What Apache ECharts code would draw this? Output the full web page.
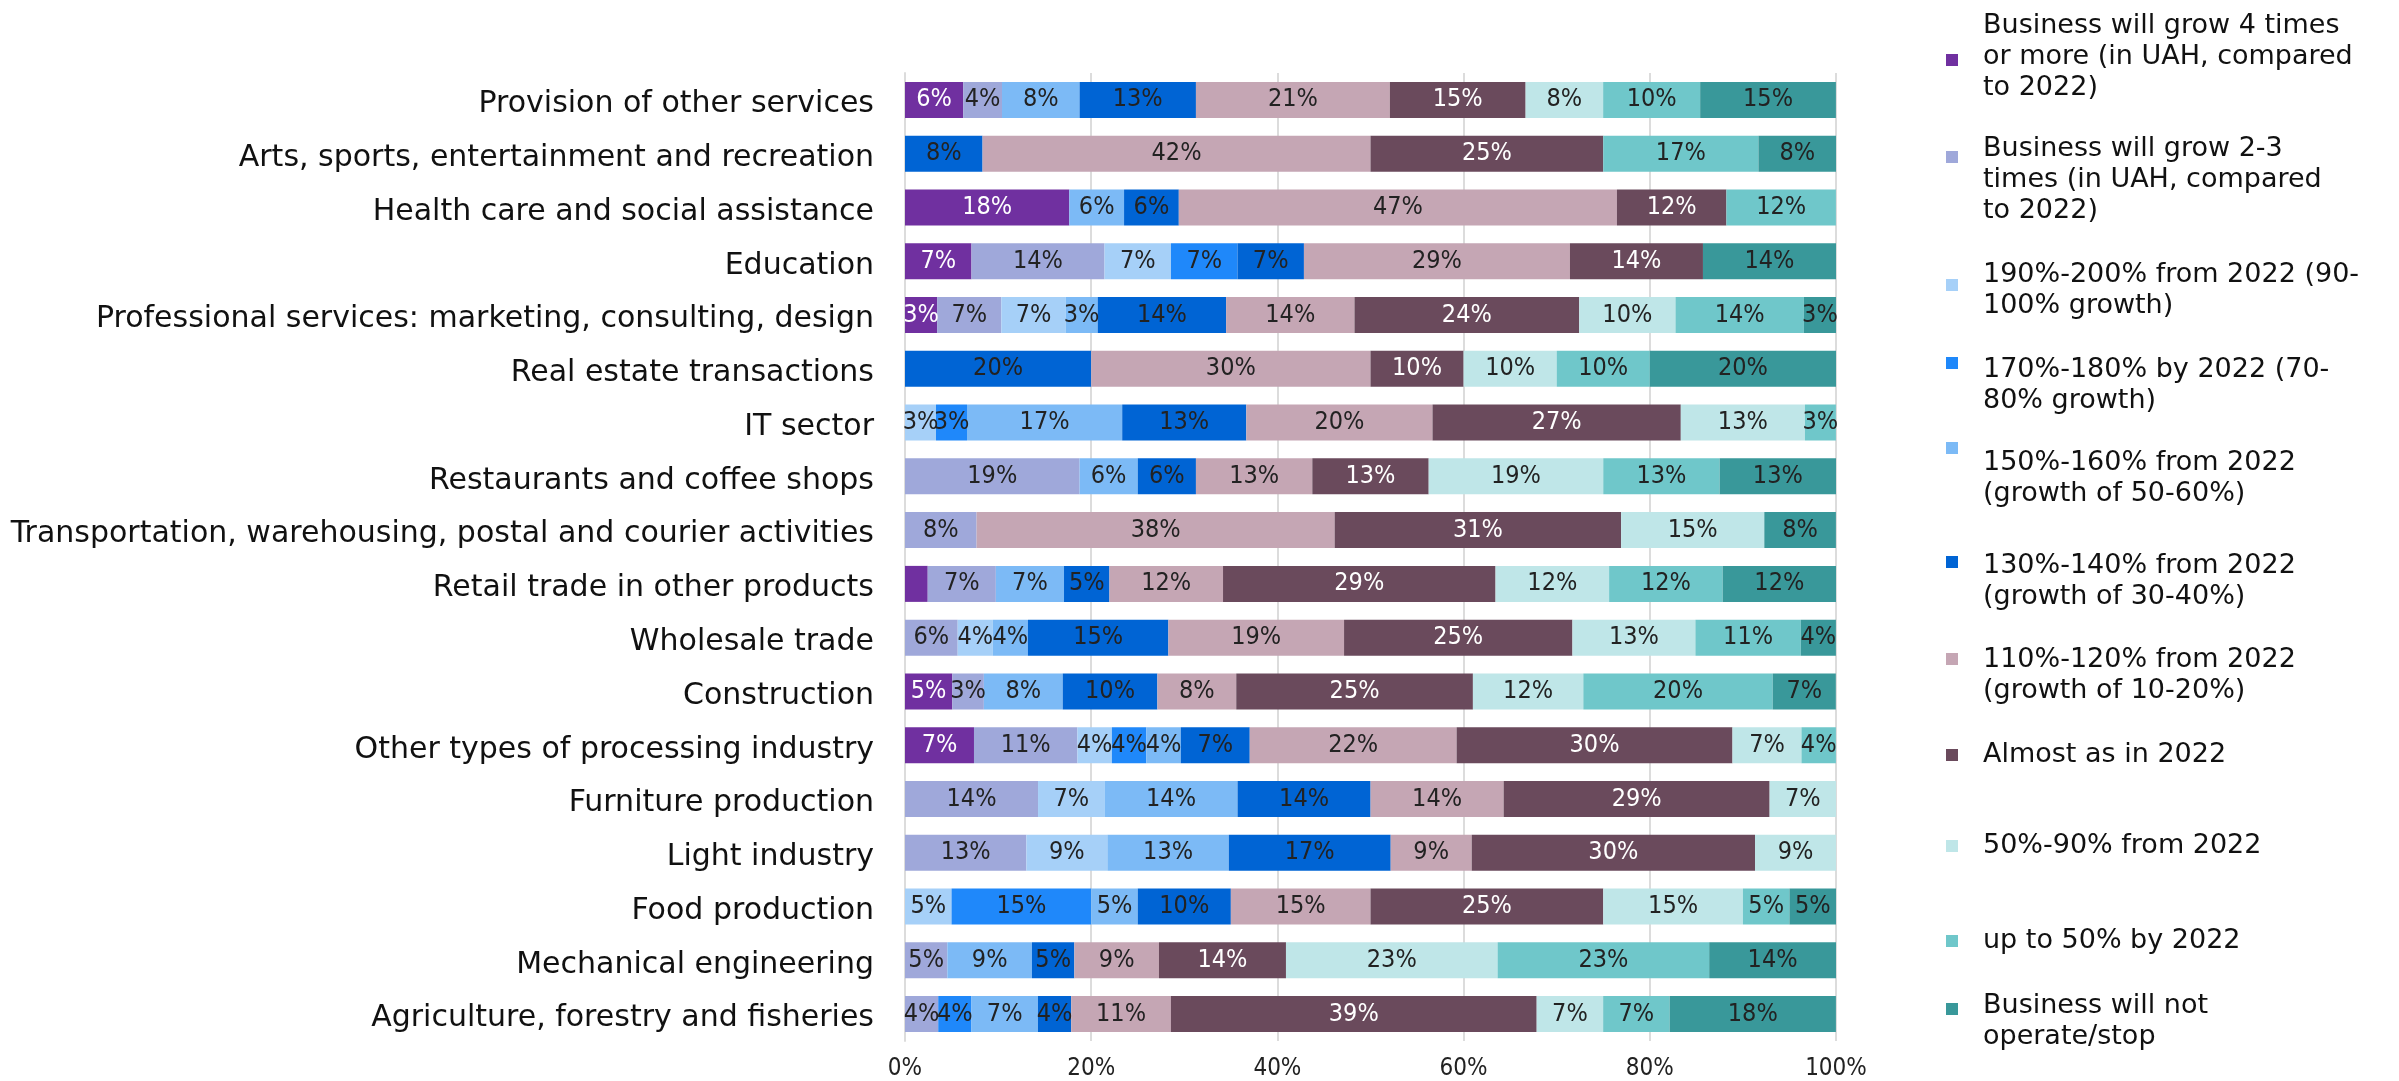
<!DOCTYPE html>
<html>
<head>
<meta charset="utf-8">
<script src="https://cdn.jsdelivr.net/npm/echarts@6/dist/echarts.min.js"></script>
<style>
html,body{margin:0;padding:0;background:#fff;}
#chart{width:2399px;height:1081px;}
</style>
</head>
<body>
<div id="chart"></div>
<script>
const categories = [
  "Provision of other services",
  "Arts, sports, entertainment and recreation",
  "Health care and social assistance",
  "Education",
  "Professional services: marketing, consulting, design",
  "Real estate transactions",
  "IT sector",
  "Restaurants and coffee shops",
  "Transportation, warehousing, postal and courier activities",
  "Retail trade in other products",
  "Wholesale trade",
  "Construction",
  "Other types of processing industry",
  "Furniture production",
  "Light industry",
  "Food production",
  "Mechanical engineering",
  "Agriculture, forestry and fisheries"
];

const seriesNames = [
  "Business will grow 4 times or more (in UAH, compared to 2022)",
  "Business will grow 2-3 times (in UAH, compared to 2022)",
  "190%-200% from 2022 (90-100% growth)",
  "170%-180% by 2022 (70-80% growth)",
  "150%-160% from 2022 (growth of 50-60%)",
  "130%-140% from 2022 (growth of 30-40%)",
  "110%-120% from 2022 (growth of 10-20%)",
  "Almost as in 2022",
  "50%-90% from 2022",
  "up to 50% by 2022",
  "Business will not operate/stop"
];

const legendLines = [
  "Business will grow 4 times\nor more (in UAH, compared\nto 2022)",
  "Business will grow 2-3\ntimes (in UAH, compared\nto 2022)",
  "190%-200% from 2022 (90-\n100% growth)",
  "170%-180% by 2022 (70-\n80% growth)",
  "150%-160% from 2022\n(growth of 50-60%)",
  "130%-140% from 2022\n(growth of 30-40%)",
  "110%-120% from 2022\n(growth of 10-20%)",
  "Almost as in 2022",
  "50%-90% from 2022",
  "up to 50% by 2022",
  "Business will not\noperate/stop"
];

const grow4x      = [6.25, 0, 17.65, 7.14, 3.45, 0, 0, 0, 0, 2.44, 0, 5.08, 7.41, 0, 0, 0, 0, 0];
const grow2to3x   = [4.17, 0, 0, 14.29, 6.90, 0, 0, 18.75, 7.69, 7.32, 5.66, 3.39, 11.11, 14.29, 13.04, 0, 4.55, 3.57];
const pct190to200 = [0, 0, 0, 7.14, 6.90, 0, 3.33, 0, 0, 0, 3.77, 0, 3.70, 7.14, 8.70, 5, 0, 0];
const pct170to180 = [0, 0, 0, 7.14, 0, 0, 3.33, 0, 0, 0, 0, 0, 3.70, 0, 0, 15, 0, 3.57];
const pct150to160 = [8.33, 0, 5.88, 0, 3.45, 0, 16.67, 6.25, 0, 7.32, 3.77, 8.47, 3.70, 14.29, 13.04, 5, 9.09, 7.14];
const pct130to140 = [12.5, 8.33, 5.88, 7.14, 13.79, 20, 13.33, 6.25, 0, 4.88, 15.09, 10.17, 7.41, 14.29, 17.39, 10, 4.55, 3.57];
const pct110to120 = [20.83, 41.67, 47.06, 28.57, 13.79, 30, 20, 12.5, 38.46, 12.2, 18.87, 8.47, 22.22, 14.29, 8.70, 15, 9.09, 10.71];
const almostSame  = [14.58, 25, 11.76, 14.29, 24.14, 10, 26.67, 12.5, 30.77, 29.27, 24.53, 25.42, 29.63, 28.57, 30.43, 25, 13.64, 39.29];
const pct50to90   = [8.33, 0, 0, 0, 10.34, 10, 13.33, 18.75, 15.38, 12.2, 13.21, 11.86, 7.41, 7.14, 8.70, 15, 22.73, 7.14];
const upTo50      = [10.42, 16.67, 11.76, 0, 13.79, 10, 3.33, 12.5, 0, 12.2, 11.32, 20.34, 3.70, 0, 0, 5, 22.73, 7.14];
const willStop    = [14.58, 8.33, 0, 14.29, 3.45, 20, 0, 12.5, 7.69, 12.2, 3.77, 6.78, 0, 0, 0, 5, 13.63, 17.86];

const seriesData = [grow4x, grow2to3x, pct190to200, pct170to180, pct150to160, pct130to140, pct110to120, almostSame, pct50to90, upTo50, willStop];

const xTicks = [0, 20, 40, 60, 80, 100];

const colors = ['#7030a0', '#9fa8da', '#a6d0f8', '#1f88fa', '#7cbaf6', '#0064d4', '#c5a6b4', '#6a4a5c', '#bfe6e8', '#6fc7ca', '#39989a'];
const labelColors = ['#ffffff', '#222222', '#222222', '#222222', '#222222', '#222222', '#222222', '#ffffff', '#222222', '#222222', '#222222'];

// legend layout: marker centres and text-block tops (px)
const legendMarkerY = [60, 157, 285, 363, 448, 562, 659, 755, 846, 941, 1009];
const legendTextTop = [10, 133, 259, 354, 447, 550, 644, 739, 830, 925, 990];
const LEG_LH = 31;

const narrowFont = "'Liberation Sans Narrow', 'DejaVu Sans Condensed', 'Liberation Sans', sans-serif";

const chart = echarts.init(document.getElementById('chart'), null, {renderer: 'canvas'});

const markerLegends = seriesNames.map((name, i) => ({
  data: [name],
  orient: 'vertical',
  left: 1946,
  top: legendMarkerY[i] - 6,
  padding: 0,
  itemWidth: 12,
  itemHeight: 12,
  icon: 'rect',
  selectedMode: false,
  formatter: () => '',
  textStyle: {fontSize: 8, lineHeight: 8}
}));

const textLegends = seriesNames.map((name, i) => ({
  data: [name],
  orient: 'vertical',
  left: 1978,
  top: legendTextTop[i],
  padding: 0,
  itemWidth: 0,
  itemHeight: 0,
  icon: 'none',
  selectedMode: false,
  formatter: () => legendLines[i],
  textStyle: {
    fontFamily: "'DejaVu Sans', sans-serif",
    fontSize: 27,
    lineHeight: LEG_LH,
    color: '#111111'
  }
}));

const series = seriesNames.map((name, i) => ({
  name: name,
  type: 'bar',
  stack: 'total',
  barWidth: 36,
  itemStyle: {color: colors[i]},
  label: {
    show: true,
    position: 'inside',
    color: labelColors[i],
    fontFamily: narrowFont,
    fontSize: 25,
    formatter: p => (p.value >= 2.5 ? Math.round(p.value) + '%' : '')
  },
  emphasis: {disabled: true},
  data: seriesData[i]
}));

chart.setOption({
  animation: false,
  color: colors,
  legend: markerLegends.concat(textLegends),
  grid: {left: 905, right: 563, top: 73, bottom: 40, containLabel: false},
  xAxis: {
    type: 'value',
    min: xTicks[0],
    max: xTicks[xTicks.length - 1],
    interval: 20,
    axisLine: {show: false},
    axisTick: {show: false},
    splitLine: {show: true, lineStyle: {color: '#dcdcdc', width: 2}},
    axisLabel: {
      formatter: '{value}%',
      fontFamily: narrowFont,
      fontSize: 24,
      color: '#222222',
      margin: 16
    }
  },
  yAxis: {
    type: 'category',
    inverse: true,
    data: categories,
    axisLine: {show: true, lineStyle: {color: '#dcdcdc', width: 2}},
    axisTick: {show: false},
    axisLabel: {
      interval: 0,
      margin: 31,
      formatter: v => '{c|' + v + '}',
      rich: {
        c: {
          fontFamily: "'DejaVu Sans', sans-serif",
          fontSize: 30,
          color: '#111111',
          padding: [9, 0, 0, 0]
        }
      }
    }
  },
  series: series
});
</script>
</body>
</html>
